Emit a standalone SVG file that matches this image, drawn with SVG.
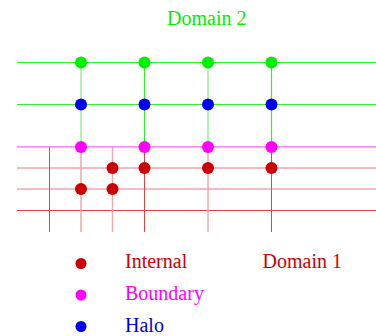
<svg xmlns="http://www.w3.org/2000/svg" width="376" height="336" viewBox="0 0 376 336">
<style>
.t{font-family:"Liberation Serif","Times New Roman",serif;font-size:20px}
.g{stroke:#33ee33;stroke-width:1.2;fill:none}
.gl{stroke:#99ee99;stroke-width:1.5;fill:none}
.m{stroke:#ff66ff;stroke-width:1.2;fill:none}
.r{stroke:#dd4444;stroke-width:1;fill:none}
.rl{stroke:#eeaaaa;stroke-width:1.5;fill:none}
.di{fill:#cc0000}.db{fill:#ff00ff}.dh{fill:#0000ee}.dd{fill:#00ee00}
</style>
<rect width="376" height="336" fill="#fff"/>
<g id="connectors">
<line class="g" x1="17" y1="62.5" x2="376" y2="62.5"/>
<line class="g" x1="17" y1="104.5" x2="376" y2="104.5"/>
<line class="rl" x1="17" y1="168" x2="376" y2="168"/>
<line class="rl" x1="17" y1="189" x2="376" y2="189"/>
<line class="r" x1="17" y1="210.5" x2="376" y2="210.5"/>
<line class="gl" x1="81" y1="62" x2="81" y2="147"/>
<line class="g" x1="144.5" y1="62" x2="144.5" y2="147"/>
<line class="gl" x1="208" y1="62" x2="208" y2="147"/>
<line class="g" x1="271.5" y1="62" x2="271.5" y2="147"/>
<line class="r" x1="49.5" y1="147" x2="49.5" y2="232"/>
<line class="rl" x1="81" y1="147" x2="81" y2="232"/>
<line class="rl" x1="112.5" y1="147" x2="112.5" y2="232"/>
<line class="r" x1="144.5" y1="147" x2="144.5" y2="232"/>
<line class="rl" x1="208" y1="147" x2="208" y2="232"/>
<line class="r" x1="271.5" y1="147" x2="271.5" y2="232"/>
<line class="m" x1="17" y1="146.8" x2="376" y2="146.8"/>
</g>
<g id="halo-nodes">
<circle class="dd" cx="81" cy="62.5" r="6"/>
<circle class="dd" cx="144.5" cy="62.5" r="6"/>
<circle class="dd" cx="208" cy="62.5" r="6"/>
<circle class="dd" cx="271.5" cy="62.5" r="6"/>
</g>
<g id="halo-blue">
<circle class="dh" cx="81" cy="104.5" r="6"/>
<circle class="dh" cx="144.5" cy="104.5" r="6"/>
<circle class="dh" cx="208" cy="104.5" r="6"/>
<circle class="dh" cx="271.5" cy="104.5" r="6"/>
</g>
<g id="boundary-nodes">
<circle class="db" cx="81" cy="147" r="6"/>
<circle class="db" cx="144.5" cy="147" r="6"/>
<circle class="db" cx="208" cy="147" r="6"/>
<circle class="db" cx="271.5" cy="147" r="6"/>
</g>
<g id="internal-nodes">
<circle class="di" cx="112.5" cy="168" r="6"/>
<circle class="di" cx="144.5" cy="168" r="6"/>
<circle class="di" cx="208" cy="168" r="6"/>
<circle class="di" cx="271.5" cy="168" r="6"/>
<circle class="di" cx="81" cy="189" r="6"/>
<circle class="di" cx="112.5" cy="189" r="6"/>
</g>
<g id="labels">
<text class="t" x="167" y="25" fill="#00ee00">Domain 2</text>
<text class="t" x="262.5" y="268" fill="#cc0000">Domain 1</text>
</g>
<g id="legend">
<circle class="di" cx="81" cy="263.5" r="5.5"/>
<circle class="db" cx="81" cy="295" r="5.5"/>
<circle class="dh" cx="81" cy="326.5" r="5.5"/>
<text class="t" x="125" y="268" fill="#cc0000">Internal</text>
<text class="t" x="125" y="300" fill="#ff00ff">Boundary</text>
<text class="t" x="125" y="331.5" fill="#0000ee">Halo</text>
</g>
</svg>
